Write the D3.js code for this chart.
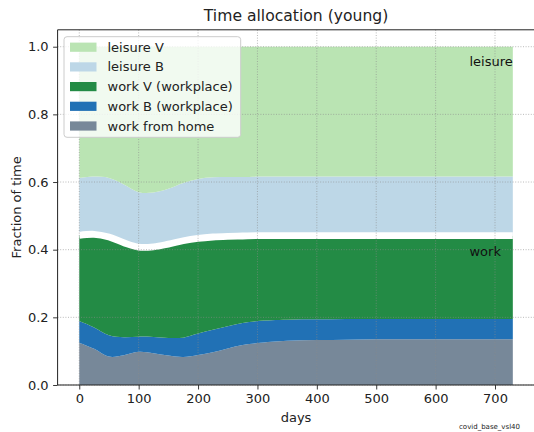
<!DOCTYPE html>
<html>
<head>
<meta charset="utf-8">
<script src="https://cdn.jsdelivr.net/npm/d3@7"></script>
<style>
  html, body { margin: 0; padding: 0; background: #fff; }
  svg { display: block; font-family: "DejaVu Sans", sans-serif; }
</style>
</head>
<body>
<div id="chart"></div>
<script>
// ---- data ----
const days = [0, 25, 50, 75, 100, 125, 150, 175, 200, 225, 250, 275, 300, 350, 400, 450, 500, 550, 600, 650, 700, 730];
const workFromHome = [0.125, 0.107, 0.084, 0.088, 0.098, 0.094, 0.087, 0.083, 0.089, 0.097, 0.108, 0.118, 0.124, 0.131, 0.133, 0.134, 0.135, 0.135, 0.135, 0.135, 0.135, 0.135];
const workB = [0.064, 0.063, 0.063, 0.053, 0.045, 0.048, 0.052, 0.057, 0.063, 0.066, 0.066, 0.065, 0.065, 0.062, 0.061, 0.061, 0.060, 0.060, 0.060, 0.060, 0.060, 0.060];
const workV = [0.2535, 0.2755, 0.2905, 0.2795, 0.2645, 0.2665, 0.2775, 0.2865, 0.2815, 0.2745, 0.2655, 0.2575, 0.2525, 0.2485, 0.2475, 0.2465, 0.2465, 0.2465, 0.2465, 0.2465, 0.2465, 0.2465];
const leisureB = [0.1695, 0.1705, 0.1745, 0.1725, 0.1625, 0.1605, 0.1635, 0.1705, 0.1755, 0.1765, 0.1755, 0.1745, 0.1745, 0.1745, 0.1745, 0.1745, 0.1745, 0.1745, 0.1745, 0.1745, 0.1745, 0.1745];
const leisureV = [0.388, 0.384, 0.388, 0.407, 0.430, 0.431, 0.420, 0.403, 0.391, 0.386, 0.385, 0.385, 0.384, 0.384, 0.384, 0.384, 0.384, 0.384, 0.384, 0.384, 0.384, 0.384];

const seriesKeys = ["wfh", "workB", "workV", "leisureB", "leisureV"];
const seriesLabels = ["work from home", "work B (workplace)", "work V (workplace)", "leisure B", "leisure V"];
const seriesColors = ["#778899", "#2171b5", "#238b45", "#bdd7e7", "#bae4b3"];
const xTicks = [0, 100, 200, 300, 400, 500, 600, 700];
const yTicks = [0.0, 0.2, 0.4, 0.6, 0.8, 1.0];
const titleText = "Time allocation (young)";
const xLabel = "days";
const yLabel = "Fraction of time";
const footnote = "covid_base_vsl40";

// ---- layout ----
const W = 534, H = 432;
const L = 57.6, R = 534.5, T = 29.8, B = 385;

const rows = days.map((d, i) => ({
  day: d, wfh: workFromHome[i], workB: workB[i], workV: workV[i], leisureB: leisureB[i], leisureV: leisureV[i]
}));

const x = d3.scaleLinear().domain([-36.5, 766.5]).range([L, R]);
const y = d3.scaleLinear().domain([0, 1.05]).range([B, T]);

const svg = d3.select("#chart").append("svg").attr("width", W).attr("height", H);
svg.append("defs").append("clipPath").attr("id", "clip")
  .append("rect").attr("x", L).attr("y", T).attr("width", R - L).attr("height", B - T);

const curve = d3.curveCatmullRom.alpha(0.5);
const stacked = d3.stack().keys(seriesKeys)(rows);
const area = d3.area()
  .x((d) => x(d.data.day))
  .y0((d) => y(d[0]))
  .y1((d) => y(d[1]))
  .curve(curve);

const plot = svg.append("g").attr("clip-path", "url(#clip)");
plot.selectAll("path.area").data(stacked).join("path")
  .attr("class", "area")
  .attr("d", area)
  .attr("fill", (d, i) => seriesColors[i]);

// white separator between work and leisure stacks
const workTop = stacked[2];
plot.append("path")
  .attr("d", d3.line().x((d) => x(d.data.day)).y((d) => y(d[1])).curve(curve)(workTop))
  .attr("fill", "none").attr("stroke", "#fff").attr("stroke-width", 6.8);

// grid
const grid = svg.append("g");
grid.selectAll("line.gx").data(xTicks).join("line")
  .attr("x1", (d) => x(d)).attr("x2", (d) => x(d)).attr("y1", T).attr("y2", B);
grid.selectAll("line.gy").data(yTicks).join("line")
  .attr("x1", L).attr("x2", R).attr("y1", (d) => y(d)).attr("y2", (d) => y(d));
grid.selectAll("line")
  .attr("stroke", "#8c8c8c").attr("stroke-opacity", 0.75)
  .attr("stroke-width", 0.8).attr("stroke-dasharray", "1,1.6");

// axes
const xAxis = d3.axisBottom(x).tickValues(xTicks).tickSize(4.5).tickPadding(4.5).tickFormat(d3.format("d"));
const yAxis = d3.axisLeft(y).tickValues(yTicks).tickSize(4.5).tickPadding(4.5).tickFormat(d3.format(".1f"));
const gx = svg.append("g").attr("transform", `translate(0,${B})`).call(xAxis);
const gy = svg.append("g").attr("transform", `translate(${L},0)`).call(yAxis);
[gx, gy].forEach((g) => {
  g.select(".domain").remove();
  g.selectAll(".tick line").attr("stroke", "#222").attr("stroke-width", 0.9);
  g.selectAll(".tick text").attr("fill", "#222").style("font-size", "13px").style("font-family", "DejaVu Sans");
});

// spines
svg.append("line").attr("x1", L).attr("x2", L).attr("y1", T).attr("y2", B).attr("stroke", "#222").attr("stroke-width", 1);
svg.append("line").attr("x1", L).attr("x2", R).attr("y1", B).attr("y2", B).attr("stroke", "#222").attr("stroke-width", 1);
svg.append("line").attr("x1", L).attr("x2", R).attr("y1", T).attr("y2", T).attr("stroke", "#222").attr("stroke-width", 1);
svg.append("line").attr("x1", R).attr("x2", R).attr("y1", T).attr("y2", B).attr("stroke", "#222").attr("stroke-width", 1);

// titles
svg.append("text").attr("x", (L + R) / 2).attr("y", 21).attr("text-anchor", "middle")
  .style("font-size", "15.6px").attr("fill", "#222").text(titleText);
svg.append("text").attr("x", (L + R) / 2).attr("y", 422).attr("text-anchor", "middle")
  .style("font-size", "13px").attr("fill", "#222").text(xLabel);
svg.append("text").attr("transform", `translate(21,${(T + B) / 2}) rotate(-90)`).attr("text-anchor", "middle")
  .style("font-size", "13px").attr("fill", "#222").text(yLabel);

// in-plot labels
svg.append("text").attr("x", x(657)).attr("y", y(0.955)).attr("dominant-baseline", "central")
  .style("font-size", "13px").attr("fill", "#111").text("leisure");
svg.append("text").attr("x", x(657)).attr("y", y(0.394)).attr("dominant-baseline", "central")
  .style("font-size", "13px").attr("fill", "#111").text("work");

// footnote
svg.append("text").attr("x", 459).attr("y", 429).style("font-size", "7px").attr("fill", "#222").text(footnote);

// legend (top entry = last stacked series)
const legendOrder = [4, 3, 2, 1, 0];
const lg = svg.append("g");
lg.append("rect").attr("x", 64).attr("y", 36.7).attr("width", 176.7).attr("height", 100.6).attr("rx", 3)
  .attr("fill", "#fff").attr("fill-opacity", 0.8).attr("stroke", "#cccccc").attr("stroke-width", 1);
legendOrder.forEach((si, r) => {
  const cy = 47.2 + r * 19.7;
  lg.append("rect").attr("x", 70).attr("y", cy - 4.6).attr("width", 26.5).attr("height", 9.2).attr("fill", seriesColors[si]);
  lg.append("text").attr("x", 107.5).attr("y", cy).attr("dominant-baseline", "central")
    .style("font-size", "13px").attr("fill", "#222").text(seriesLabels[si]);
});
</script>
</body>
</html>
